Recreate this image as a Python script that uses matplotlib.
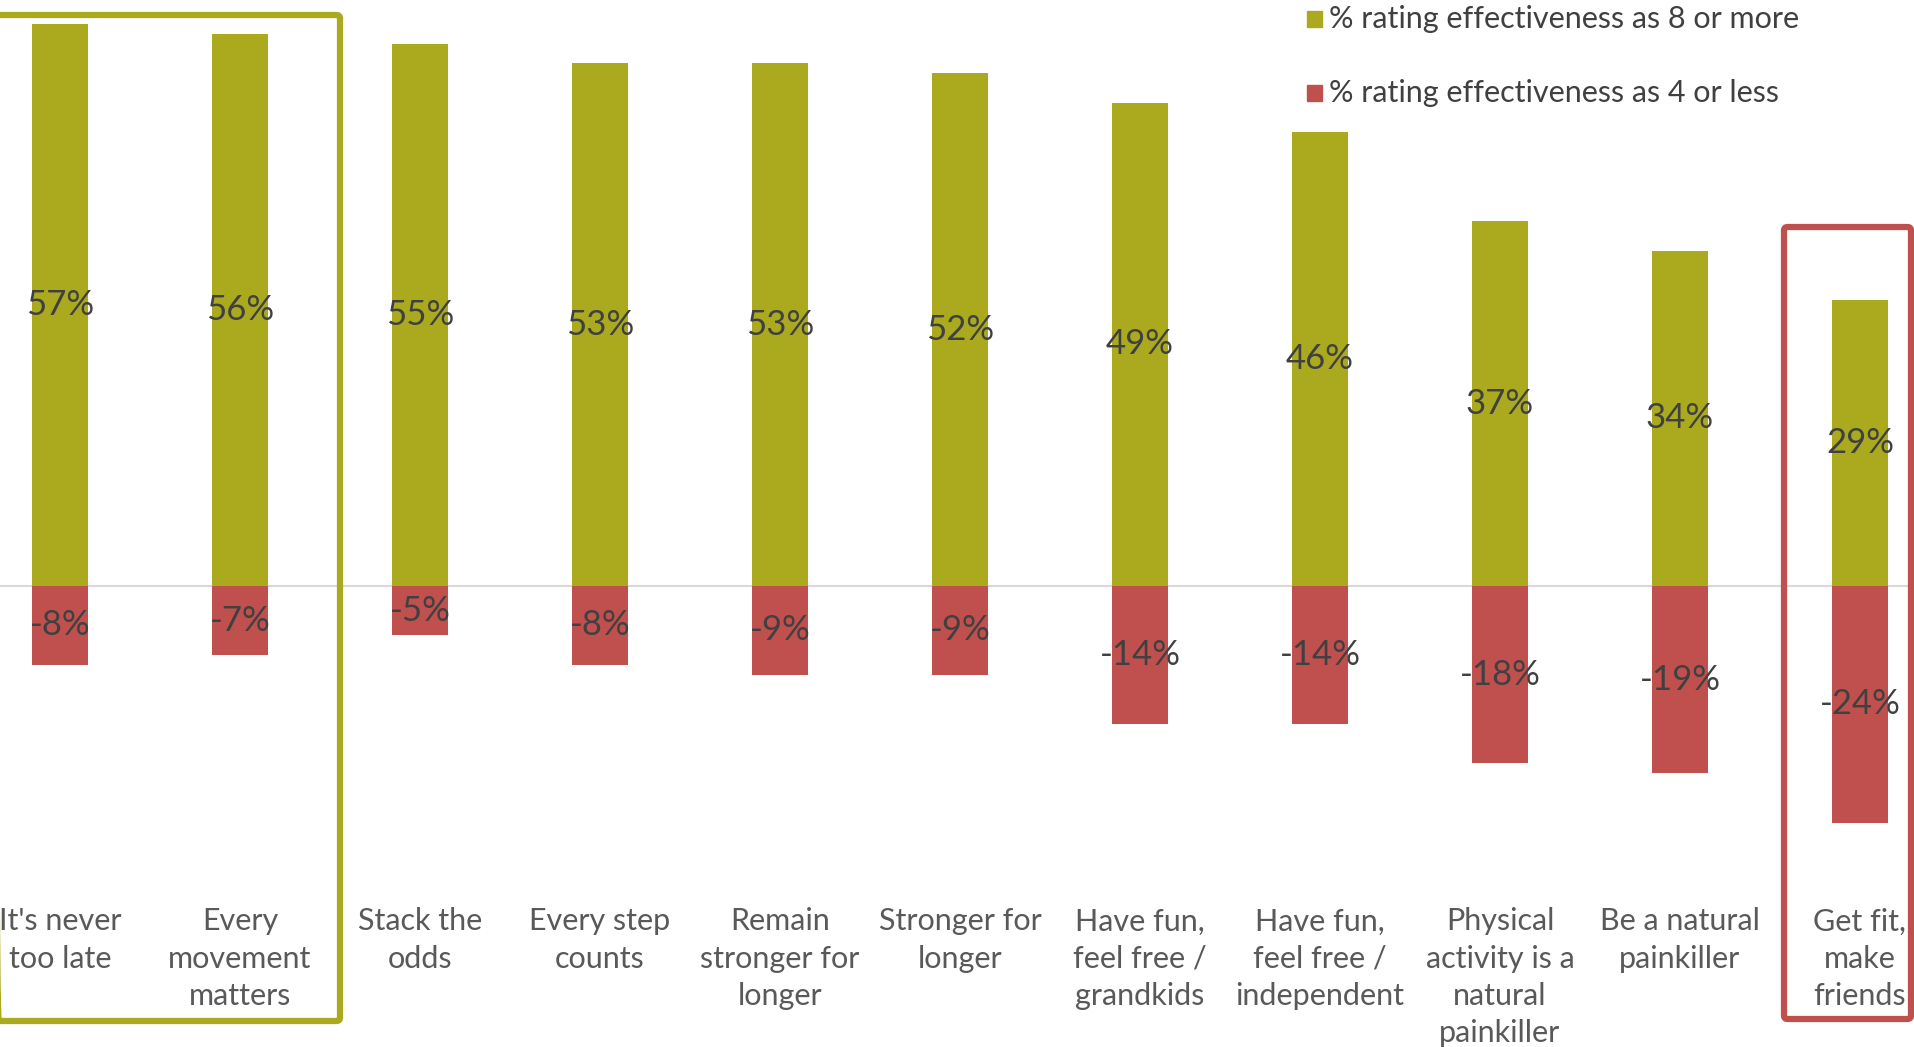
import matplotlib
matplotlib.use("Agg")
import matplotlib.pyplot as plt
from matplotlib.patches import Rectangle, FancyBboxPatch

categories = [
    "It's never\ntoo late",
    "Every\nmovement\nmatters",
    "Stack the\nodds",
    "Every step\ncounts",
    "Remain\nstronger for\nlonger",
    "Stronger for\nlonger",
    "Have fun,\nfeel free /\ngrandkids",
    "Have fun,\nfeel free /\nindependent",
    "Physical\nactivity is a\nnatural\npainkiller",
    "Be a natural\npainkiller",
    "Get fit,\nmake\nfriends",
]
high_pct = [57, 56, 55, 53, 53, 52, 49, 46, 37, 34, 29]
low_pct = [-8, -7, -5, -8, -9, -9, -14, -14, -18, -19, -24]
legend_labels = ["% rating effectiveness as 8 or more",
                 "% rating effectiveness as 4 or less"]

GREEN = "#ABAA1E"
RED = "#C0504D"
TEXT = "#404040"
CAT = "#595959"

W, H = 1915, 1047
fig = plt.figure(figsize=(W / 100, H / 100), dpi=100)
ax = fig.add_axes([0, 0, 1, 1])

# scale: bar spacing 180 px, first bar centre at 60 px; zero line 586 px from top, 9.86 px per %
px_x0, px_dx = 60, 180
px_zero, px_pct = 586, 9.86
ax.set_xlim(-px_x0 / px_dx, (W - px_x0) / px_dx)
ax.set_ylim(-(H - px_zero) / px_pct, px_zero / px_pct)
ax.axis("off")

x = list(range(len(categories)))
bw = 56 / px_dx
ax.axhline(0, color="#D9D9D9", lw=1.5, zorder=1)
ax.bar(x, high_pct, width=bw, color=GREEN, zorder=2)
ax.bar(x, low_pct, width=bw, color=RED, zorder=2)

for xi, h, l in zip(x, high_pct, low_pct):
    ax.text(xi, h / 2, f"{h}%", ha="center", va="center", fontsize=25,
            color=TEXT, family="Lato", zorder=3)
    ax.text(xi, l / 2, f"{l}%", ha="center", va="center", fontsize=25,
            color=TEXT, family="Lato", zorder=3)

for xi, c in zip(x, categories):
    ax.text(xi, -32.6, c, ha="center", va="top", fontsize=22, color=CAT,
            linespacing=1.4, family="Lato")

# highlight boxes
def box(x0, x1, y0, y1, color):
    ax.add_patch(FancyBboxPatch((x0, y0), x1 - x0, y1 - y0,
                                boxstyle="round,pad=0,rounding_size=0.02",
                                fill=False, edgecolor=color, lw=4.5,
                                zorder=4, clip_on=False, mutation_aspect=18))

box(-0.36, (340 - px_x0) / px_dx, (px_zero - 1021) / px_pct, (px_zero - 15) / px_pct, GREEN)
box((1784 - px_x0) / px_dx, (1911 - px_x0) / px_dx, (px_zero - 1019) / px_pct, (px_zero - 227) / px_pct, RED)

# legend
for i, (lab, col) in enumerate(zip(legend_labels, [GREEN, RED])):
    yc = 19 + 74 * i
    fig.patches.append(Rectangle((1307 / W, 1 - (yc + 8) / H), 15 / W, 16 / H,
                                 transform=fig.transFigure, color=col))
    fig.text(1329 / W, 1 - yc / H, lab, ha="left", va="center", fontsize=22,
             color=TEXT, family="Lato")

fig.savefig("out.png", dpi=100, facecolor="white")
